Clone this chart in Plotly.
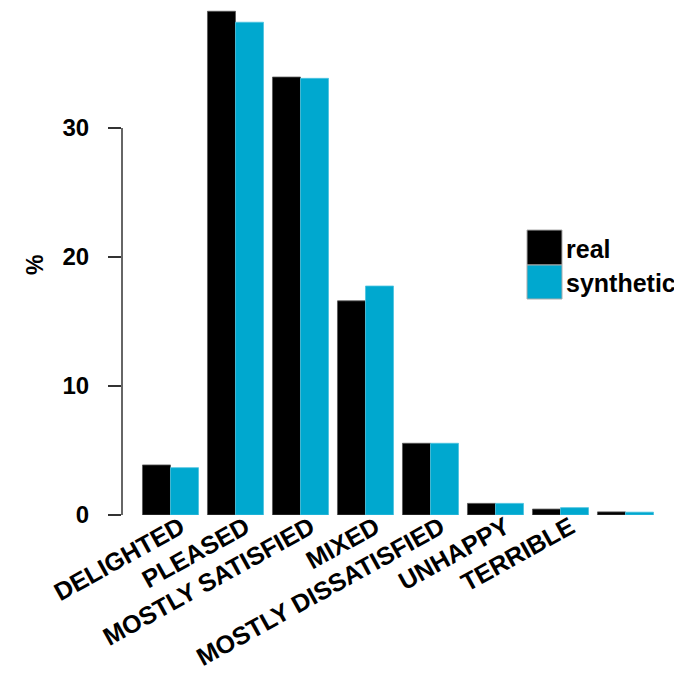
import plotly.graph_objects as go

categories = ["DELIGHTED", "PLEASED", "MOSTLY SATISFIED", "MIXED",
              "MOSTLY DISSATISFIED", "UNHAPPY", "TERRIBLE", ""]
real = [3.88, 39.05, 33.95, 16.6, 5.56, 0.9, 0.46, 0.24]
synthetic = [3.67, 38.2, 33.85, 17.75, 5.56, 0.9, 0.57, 0.22]
y_ticks = [0, 10, 20, 30]
series_names = ["real", "synthetic"]
colors = ["#000000", "#00A8CF"]

OFF = 8  # page body margin
W, H = 682, 680
L, R, T, B = 114, 32, 0, 173
pw, ph = W - L - R, H - T - B


def px_x(p):
    return (p - OFF - L) / pw


def px_y(p):
    return (H - B - (p - OFF)) / ph


FONT = "Liberation Sans, Arial, sans-serif"
idx = list(range(len(categories)))

fig = go.Figure()
for name, vals, col, lc in zip(series_names, [real, synthetic], colors, ["#555555", "#4cc3e0"]):
    fig.add_trace(go.Bar(x=idx, y=vals, name=name, marker=dict(color=col, line=dict(color=lc, width=0.8)),
                         showlegend=False))

shapes = []
# y axis line from 0 to 30 only
shapes.append(dict(type="line", xref="paper", yref="y", x0=0, x1=0, y0=y_ticks[0], y1=y_ticks[-1],
                   line=dict(color="#333333", width=1.5)))
# legend boxes
box_rows = [(230, 265), (265, 299)]
annotations = []
for (y0, y1), col, name in zip(box_rows, colors, series_names):
    shapes.append(dict(type="rect", xref="paper", yref="paper", x0=px_x(527), x1=px_x(562),
                       y0=px_y(y1), y1=px_y(y0), fillcolor=col, line=dict(color="#aaaaaa", width=1)))
    annotations.append(dict(text=name, xref="paper", yref="paper", x=px_x(564), y=px_y((y0 + y1) / 2 + 1),
                            xanchor="left", yanchor="middle", showarrow=False,
                            font=dict(family=FONT, size=25, color="#000000", weight="bold")))
annotations.append(dict(text="%", xref="paper", yref="paper", x=px_x(35), y=px_y(265), textangle=-90,
                        xanchor="center", yanchor="middle", showarrow=False,
                        font=dict(family=FONT, size=23, color="#000000", weight="bold")))

fig.update_layout(
    width=W, height=H,
    margin=dict(l=L, r=R, t=T, b=B, pad=0),
    paper_bgcolor="white", plot_bgcolor="white",
    barmode="group", bargap=0.138, bargroupgap=0,
    shapes=shapes, annotations=annotations,
    xaxis=dict(range=[-0.746, 7.5], tickmode="array", tickvals=idx, ticktext=categories,
               tickangle=-29, showline=False, showgrid=False, zeroline=False, ticks="",
               ticklabelshift=10, ticklabelstandoff=-8,
               tickfont=dict(family=FONT, size=25, color="#000000", weight="bold")),
    yaxis=dict(range=[0, ph / 12.9], tickmode="array", tickvals=y_ticks,
               showline=False, showgrid=False, zeroline=False,
               ticks="outside", ticklen=13, tickwidth=1.5, tickcolor="#333333",
               ticklabelstandoff=14,
               tickfont=dict(family=FONT, size=24, color="#000000", weight="bold")),
)

fig.write_html("out.html")
